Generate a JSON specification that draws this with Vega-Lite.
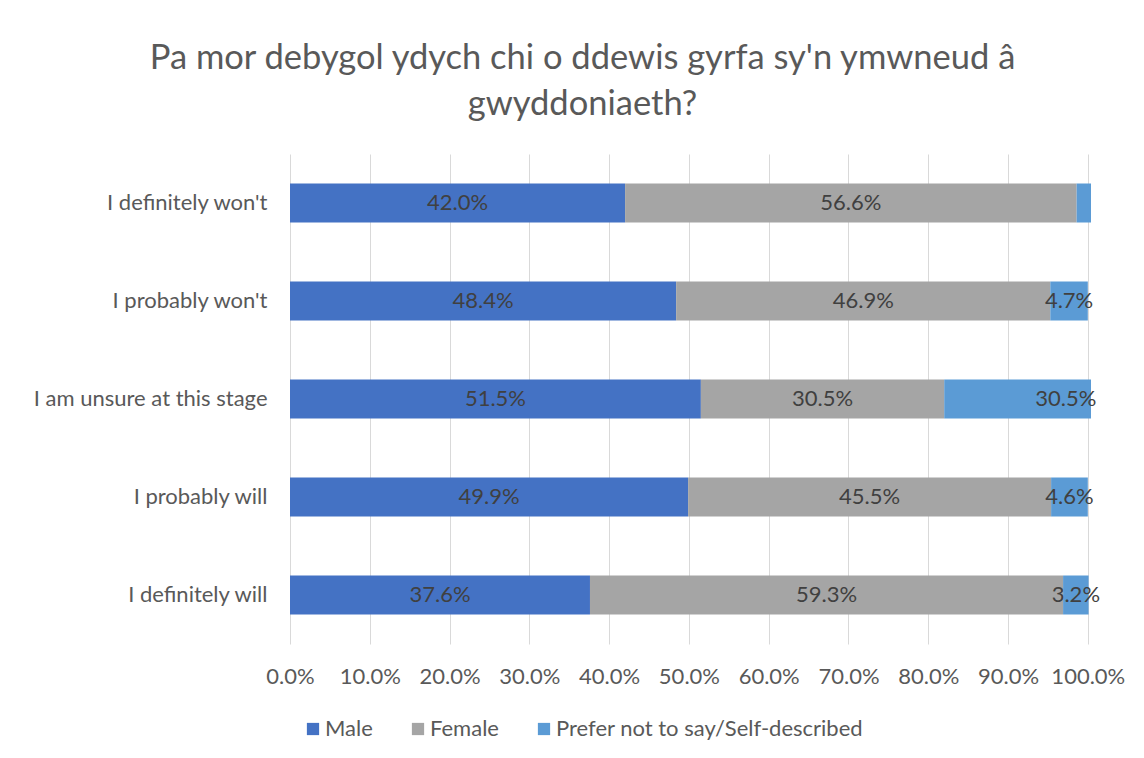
{
  "$schema": "https://vega.github.io/schema/vega-lite/v6.json",
  "autosize": {"type": "none"},
  "width": 801,
  "height": 490,
  "padding": {"left": 290, "top": 154, "right": 53, "bottom": 114},
  "background": "white",
  "config": {
    "view": {"stroke": null},
    "font": "Lato",
    "axis": {"labelFont": "Lato", "labelColor": "#595959", "labelFontSize": 22},
    "legend": {"labelFont": "Lato", "labelColor": "#595959", "labelFontSize": 22}
  },
  "title": {
    "text": ["Pa mor debygol ydych chi o ddewis gyrfa sy'n ymwneud â", "gwyddoniaeth?"],
    "font": "Lato",
    "fontSize": 34.5,
    "fontWeight": "normal",
    "color": "#595959",
    "lineHeight": 46,
    "anchor": "middle",
    "frame": "group",
    "dx": -108,
    "offset": 32
  },
  "data": {
    "values": [
      {"cat": "I definitely won't", "gender": "Male", "value": 0.420, "label": "42.0%", "order": 1},
      {"cat": "I definitely won't", "gender": "Female", "value": 0.566, "label": "56.6%", "order": 2},
      {"cat": "I definitely won't", "gender": "Prefer not to say/Self-described", "value": 0.05, "label": "", "order": 3},
      {"cat": "I probably won't", "gender": "Male", "value": 0.484, "label": "48.4%", "order": 1},
      {"cat": "I probably won't", "gender": "Female", "value": 0.469, "label": "46.9%", "order": 2},
      {"cat": "I probably won't", "gender": "Prefer not to say/Self-described", "value": 0.047, "label": "4.7%", "order": 3},
      {"cat": "I am unsure at this stage", "gender": "Male", "value": 0.515, "label": "51.5%", "order": 1},
      {"cat": "I am unsure at this stage", "gender": "Female", "value": 0.305, "label": "30.5%", "order": 2},
      {"cat": "I am unsure at this stage", "gender": "Prefer not to say/Self-described", "value": 0.305, "label": "30.5%", "order": 3},
      {"cat": "I probably will", "gender": "Male", "value": 0.499, "label": "49.9%", "order": 1},
      {"cat": "I probably will", "gender": "Female", "value": 0.455, "label": "45.5%", "order": 2},
      {"cat": "I probably will", "gender": "Prefer not to say/Self-described", "value": 0.046, "label": "4.6%", "order": 3},
      {"cat": "I definitely will", "gender": "Male", "value": 0.376, "label": "37.6%", "order": 1},
      {"cat": "I definitely will", "gender": "Female", "value": 0.593, "label": "59.3%", "order": 2},
      {"cat": "I definitely will", "gender": "Prefer not to say/Self-described", "value": 0.032, "label": "3.2%", "order": 3}
    ]
  },
  "transform": [
    {"stack": "value", "groupby": ["cat"], "sort": [{"field": "order", "order": "ascending"}], "as": ["x0", "x1"]},
    {"calculate": "(datum.x0 + datum.x1) / 2", "as": "mid"}
  ],
  "encoding": {
    "y": {
      "field": "cat",
      "type": "nominal",
      "sort": null,
      "scale": {"paddingInner": 0.6, "paddingOuter": 0.3},
      "axis": {"title": null, "domain": false, "ticks": false, "labelPadding": 23, "labelLimit": 400}
    }
  },
  "layer": [
    {
      "mark": {"type": "bar", "clip": true},
      "encoding": {
        "x": {
          "field": "x0",
          "type": "quantitative",
          "scale": {"domain": [0, 1.004], "nice": false, "zero": true},
          "axis": {
            "title": null,
            "values": [0, 0.1, 0.2, 0.3, 0.4, 0.5, 0.6, 0.7, 0.8, 0.9, 1.0],
            "format": ".1%",
            "domain": false,
            "ticks": false,
            "grid": true,
            "gridColor": "#d9d9d9",
            "gridWidth": 1,
            "labelPadding": 22,
            "labelOverlap": false,
            "labelFlush": false
          }
        },
        "x2": {"field": "x1"},
        "color": {
          "field": "gender",
          "type": "nominal",
          "scale": {
            "domain": ["Male", "Female", "Prefer not to say/Self-described"],
            "range": ["#4472C4", "#A5A5A5", "#5B9BD5"]
          },
          "legend": {
            "title": null,
            "orient": "none",
            "direction": "horizontal",
            "legendX": 12,
            "legendY": 564,
            "symbolType": "square",
            "symbolSize": 150,
            "symbolStrokeWidth": 0,
            "labelOffset": 1,
            "columnPadding": 34,
            "labelLimit": 400
          }
        }
      }
    },
    {
      "mark": {"type": "text", "fontSize": 22, "color": "#404040", "font": "Lato", "align": "center", "baseline": "middle"},
      "encoding": {
        "x": {"field": "mid", "type": "quantitative"},
        "text": {"field": "label"}
      }
    }
  ]
}
